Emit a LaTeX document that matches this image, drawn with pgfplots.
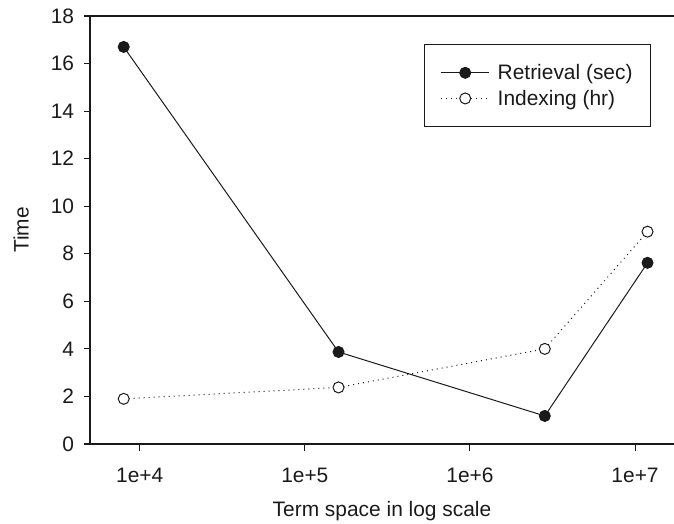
\documentclass[border=0pt]{standalone}
\usepackage{pgfplots}
\pgfplotsset{compat=1.18}
\usepackage{fontspec}
\setmainfont{Liberation Sans}
\newcommand\fnt{\fontsize{21}{25}\selectfont}
\definecolor{ink}{HTML}{1A1A1A}
\begin{document}
\begin{tikzpicture}
\useasboundingbox (0,0) rectangle (674bp,524bp);
\begin{axis}[
  at={(90bp,80bp)}, anchor=south west,
  scale only axis, width=584bp, height=428bp,
  font=\fnt,
  xmode=log, xmin=5000, xmax=1.722e7,
  ymin=0, ymax=18,
  axis x line*=bottom, axis y line*=left,
  axis line style={ink, line width=1.3bp},
  tick style={ink, line width=1.1bp},
  tick align=outside, major tick length=6.5bp,
  minor tick num=0, xminorticks=false,
  xtick={1e4,1e5,1e6,1e7},
  xticklabels={1e+4,1e+5,1e+6,1e+7},
  ytick={0,2,4,6,8,10,12,14,16,18},
  /pgf/number format/assume math mode=true,
  tick label style={text=ink, font=\fnt},
  xticklabel style={anchor=north, yshift=-14bp},
  yticklabel style={anchor=east, xshift=-6bp},
  xlabel={Term space in log scale},
  ylabel={Time},
  every axis x label/.style={at={(axis description cs:0.5,-0.170)}, anchor=base, text=ink, font=\fnt},
  every axis y label/.style={at={(axis description cs:-0.118,0.5)}, rotate=90, anchor=center, text=ink, font=\fnt},
  legend style={at={(0.9607,0.9346)}, anchor=north east, draw=ink, line width=1bp,
    inner xsep=16bp, inner ysep=18bp, row sep=5bp, text=ink, font=\fnt},
  legend cell align=left,
  legend image code/.code={\draw[mark repeat=2,mark phase=2,#1] plot coordinates {(0bp,0bp)(24bp,0bp)(48bp,0bp)}; \path (54bp,0bp);},
  clip=false,
]
\draw[ink, line width=1.3bp] (rel axis cs:0,1) -- (rel axis cs:1,1);
\addplot[ink, line width=1bp, mark=*, mark size=5.5bp, mark options={fill=ink, draw=ink, solid}]
  coordinates {(8000,16.7) (1.6e5,3.87) (2.84e6,1.18) (1.19e7,7.62)};
\addlegendentry{Retrieval (sec)}
\addplot[ink, line width=1bp, dash pattern=on 1bp off 4bp, mark=*, mark size=5.5bp, mark options={fill=white, draw=ink, solid, line width=1bp}]
  coordinates {(8000,1.9) (1.6e5,2.38) (2.84e6,4.0) (1.19e7,8.93)};
\addlegendentry{Indexing (hr)}
\end{axis}
\end{tikzpicture}
\end{document}
